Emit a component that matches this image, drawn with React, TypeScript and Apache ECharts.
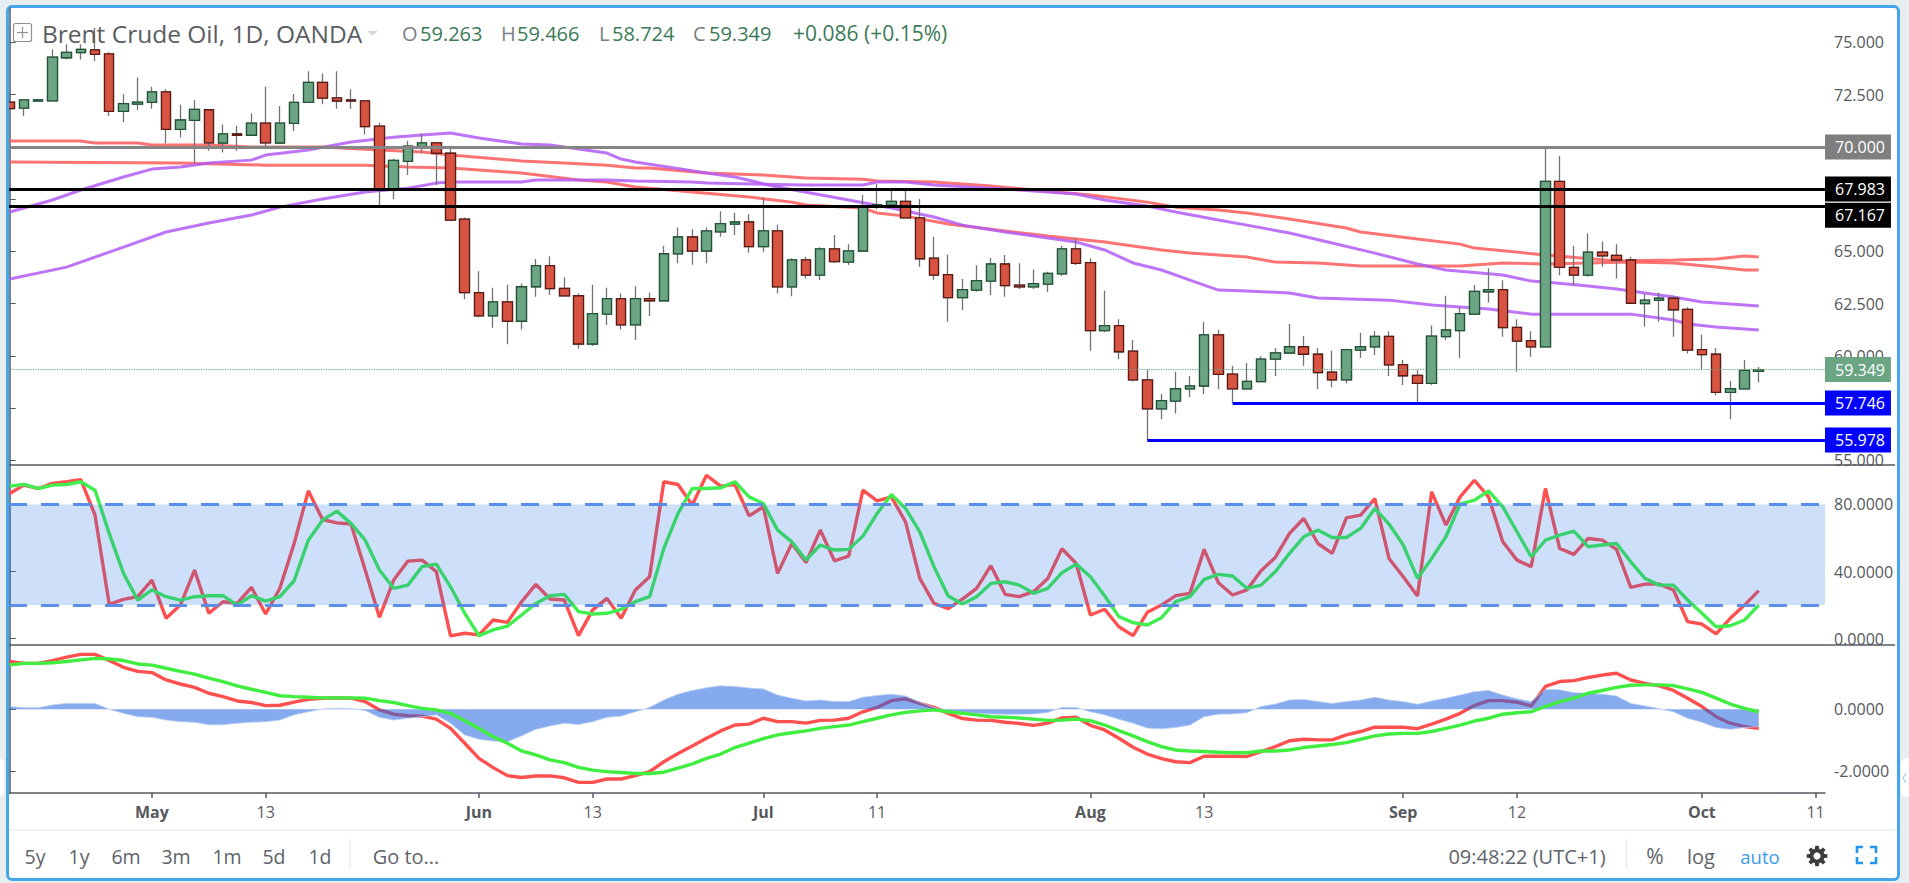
import React, { useEffect, useRef } from "react";
import * as echarts from "echarts";

const opens = [72.15,71.86,72.20,72.21,74.27,74.51,74.65,74.45,71.70,72.05,
72.13,72.64,70.84,71.27,71.78,70.19,70.63,70.56,71.14,70.19,
71.13,72.13,73.09,72.35,72.25,72.21,71.00,68.00,69.31,70.01,
70.20,69.70,66.55,63.03,61.92,62.59,61.66,63.31,64.32,63.23,
62.88,60.57,62.00,62.74,61.49,62.74,62.64,64.88,65.69,65.02,
65.94,66.31,66.41,65.23,65.98,63.30,64.60,63.87,65.12,64.49,
65.02,67.11,67.22,67.40,66.61,64.68,63.89,62.79,63.15,63.58,
64.40,63.39,63.30,63.44,63.93,65.12,64.46,61.21,61.45,60.23,
58.85,57.47,57.84,58.42,58.56,61.01,59.13,58.42,58.77,59.85,
60.14,60.44,60.08,59.22,58.85,60.28,60.43,60.94,59.58,59.07,
58.69,60.92,61.21,62.00,63.07,63.17,61.37,60.73,60.43,68.35,
64.24,63.87,64.97,64.81,64.59,62.50,62.66,62.76,62.23,60.30,
60.08,58.26,58.42,59.263];
const closes = [71.83,72.25,72.25,74.30,74.53,74.67,74.43,71.70,72.07,72.15,
72.64,70.84,71.29,71.80,70.20,70.63,70.56,71.14,70.20,71.14,
72.13,73.09,72.34,72.20,72.20,70.97,68.00,69.36,70.04,70.20,
69.70,66.50,63.03,61.92,62.59,61.66,63.31,64.32,63.22,62.87,
60.57,62.02,62.74,61.49,62.74,62.64,64.89,65.69,65.02,65.98,
66.33,66.41,65.23,65.98,63.30,64.60,63.87,65.12,64.51,65.03,
67.13,67.24,67.40,66.61,64.65,63.87,62.79,63.17,63.60,64.40,
63.36,63.30,63.46,63.95,65.12,64.43,61.21,61.45,60.20,58.85,
57.47,57.86,58.43,58.57,61.01,59.12,58.42,58.78,59.85,60.15,
60.44,60.08,59.20,58.85,60.30,60.44,60.94,59.57,59.05,58.69,
60.95,61.24,62.02,63.09,63.17,61.35,60.71,60.43,68.35,64.24,
63.87,64.97,64.79,64.59,62.52,62.67,62.76,62.21,60.28,60.06,
58.26,58.43,59.31,59.349];
const lows = [71.83,71.48,72.20,72.20,74.19,74.19,74.11,71.48,71.18,71.77,
71.83,70.17,70.46,69.23,69.82,69.74,69.82,70.56,70.01,70.19,
70.76,72.13,72.04,71.83,71.83,70.60,67.14,67.51,68.66,69.70,
68.18,66.44,62.71,61.85,61.35,60.56,61.27,62.83,62.91,62.85,
60.35,60.47,61.48,61.27,60.76,61.91,62.62,64.43,64.36,64.43,
65.70,65.79,64.94,64.99,62.99,62.85,63.71,63.63,64.45,64.35,
65.00,67.02,67.11,66.59,64.27,63.63,61.64,62.20,63.07,62.91,
62.83,63.20,63.20,63.06,63.84,64.35,60.25,61.13,59.84,58.77,
55.98,56.97,57.25,58.02,58.18,58.40,57.75,58.40,58.75,59.04,
60.12,59.53,58.40,58.50,58.69,59.90,60.04,59.04,58.61,57.75,
58.61,60.76,59.90,61.98,62.56,60.92,59.24,59.96,60.41,63.86,
63.38,63.79,64.27,63.71,62.50,61.40,61.64,60.92,60.12,59.36,
58.11,56.97,58.40,58.724];
const highs = [72.58,72.29,72.31,74.67,74.91,74.91,75.69,74.53,72.52,73.33,
72.88,72.76,72.02,72.25,71.80,71.08,71.02,71.61,72.88,71.96,
72.53,73.62,73.52,73.62,72.76,72.25,71.16,69.44,70.30,70.65,
70.25,69.96,66.63,64.05,63.26,63.41,63.47,64.64,64.77,63.76,
62.99,63.41,63.26,62.99,63.33,63.04,65.27,66.15,66.06,66.15,
66.92,66.85,66.78,67.56,66.28,64.68,64.75,65.20,65.79,65.34,
67.70,68.23,67.94,67.97,67.51,65.70,64.84,63.68,64.34,64.70,
64.83,64.43,64.14,64.03,65.27,65.63,64.67,63.12,61.75,60.76,
59.36,58.18,59.24,59.04,61.62,61.25,59.53,59.66,59.99,60.38,
61.53,60.95,60.38,60.25,60.34,61.11,61.18,61.18,59.80,59.33,
61.45,62.88,62.33,63.39,64.19,63.62,61.75,61.18,69.98,69.57,
65.27,65.87,65.48,65.35,64.75,62.96,63.04,62.88,62.33,61.03,
60.38,58.80,59.80,59.466];

// Moving averages: [bar index, price] read at knots from the picture
const maPurpleSlow = [[0,63.68],[4,64.25],[8,65.21],[11,65.93],[14,66.36],[17,66.74],[19,67.12],[22,67.51],[25,67.84],[28,68.03],[30,68.27],[31,68.32],[36,68.32],[37,68.42],[42,68.42],[44,68.37],[48,68.32],[49,68.27],[56,68.18],[60,68.18],[61,68.32],[63,68.32],[65,68.18],[70,67.99],[73,67.84],[75,67.75],[77,67.46],[80,67.17],[82,66.89],[85,66.50],[87,66.26],[90,65.88],[93,65.40],[96,64.92],[99,64.40],[101,64.11],[105,63.87],[107,63.58],[108,63.54],[111,63.35],[113,63.20],[115,63.01],[117,62.82],[119,62.58],[121,62.48],[123,62.39]];
const maPurpleFast = [[0,66.89],[3,67.46],[5,67.94],[8,68.56],[10,68.94],[12,69.04],[14,69.23],[17,69.37],[18,69.61],[21,69.85],[24,70.24],[27,70.47],[29,70.57],[31,70.67],[33,70.43],[36,70.14],[38,70.09],[40,69.90],[42,69.71],[43,69.42],[44,69.28],[49,68.75],[51,68.56],[54,68.08],[59,67.46],[62,67.08],[65,66.65],[67,66.26],[70,65.93],[73,65.64],[75,65.45],[77,65.07],[79,64.45],[81,64.11],[83,63.63],[85,63.15],[87,63.11],[90,63.01],[92,62.77],[97,62.67],[100,62.44],[104,62.24],[107,62.00],[114,62.00],[117,61.72],[118,61.53],[120,61.38],[123,61.24]];
const maRedUpper = [[0,70.28],[5,70.28],[6,70.19],[9,70.19],[10,70.09],[14,70.09],[17,70.00],[22,70.00],[26,69.85],[29,69.76],[31,69.61],[36,69.33],[39,69.23],[42,69.13],[44,68.99],[45,68.99],[49,68.75],[53,68.66],[56,68.51],[60,68.46],[61,68.37],[65,68.32],[69,68.13],[72,67.94],[76,67.70],[80,67.36],[82,67.12],[85,66.98],[87,66.84],[90,66.55],[94,66.12],[95,65.93],[99,65.59],[102,65.35],[103,65.16],[108,64.83],[113,64.54],[117,64.59],[120,64.64],[122,64.78],[123,64.73]];
const maRedLower = [[0,69.28],[12,69.23],[18,69.13],[25,69.13],[28,69.04],[31,68.99],[36,68.75],[40,68.42],[42,68.32],[44,68.08],[52,67.60],[55,67.36],[56,67.22],[60,67.08],[61,66.84],[63,66.69],[66,66.31],[70,65.98],[73,65.74],[77,65.45],[79,65.26],[81,65.07],[83,64.92],[87,64.73],[89,64.49],[92,64.45],[95,64.30],[102,64.30],[105,64.45],[108,64.40],[114,64.49],[117,64.45],[120,64.25],[122,64.11],[123,64.11]];

const stochK = [86.5,91.5,89.5,92.5,93.5,94.8,73.6,20.4,23.4,25.0,34.9,12.1,20.0,40.9,15.1,22.0,21.0,30.6,14.7,30.0,56.7,88.1,71.0,69.0,68.3,40.9,12.7,34.9,46.2,46.8,39.9,1.6,3.2,2.2,11.1,9.7,22.0,32.3,23.6,23.0,1.8,17.1,24.0,12.1,29.0,
36.9,93.5,91.9,79.6,97.4,90.9,91.9,73.2,78.6,38.9,56.7,45.4,64.7,46.4,49.2,88.5,82.1,84.5,69.6,35.9,21.0,17.9,23.6,30.0,43.5,26.4,25.0,28.0,35.9,53.6,44.8,14.1,17.5,7.1,1.8,15.7,20.0,25.6,27.0,53.2,33.3,26.0,29.0,40.5,48.4,
62.7,71.6,56.7,50.8,72.0,73.6,83.5,47.8,36.9,25.4,87.5,67.7,84.5,94.4,84.5,57.7,46.8,42.9,89.5,53.8,50.2,59.7,58.7,53.2,30.6,32.5,32.5,29.0,10.1,8.7,2.8,12.1,20.0,28.6];
const stochD = [90.9,91.9,89.5,91.5,91.9,93.5,88.5,62.7,38.9,23.0,29.0,25.0,23.0,25.0,25.6,25.6,20.0,25.6,22.4,25.0,34.5,58.7,70.6,76.0,68.7,58.7,40.9,30.0,31.9,42.9,44.4,30.9,15.1,1.8,5.2,7.5,14.1,21.0,25.6,26.4,16.1,14.7,15.1,17.5,22.0,
25.0,53.8,74.6,89.5,89.5,89.9,93.5,84.5,80.5,64.7,57.7,46.8,55.8,52.8,53.2,61.1,74.6,85.9,77.6,63.7,42.9,25.4,20.6,25.0,32.9,33.9,31.9,27.0,30.0,39.3,44.4,36.9,25.6,13.1,9.5,8.1,12.5,22.0,25.0,35.3,38.3,37.3,30.0,31.9,39.9,
50.8,60.7,64.7,60.3,60.3,65.7,77.6,68.3,55.8,35.9,47.8,60.7,80.2,82.5,88.1,78.6,63.7,48.8,58.7,61.7,64.1,54.8,55.8,56.7,45.8,35.9,31.9,31.9,23.0,15.1,7.1,7.7,11.1,20.0];

const macdLine = [1.55,1.49,1.49,1.58,1.69,1.78,1.78,1.58,1.36,1.23,1.19,0.95,0.82,0.71,0.52,0.41,0.27,0.22,0.12,0.13,0.23,0.32,0.36,0.37,0.36,0.25,-0.02,-0.16,-0.21,-0.22,-0.32,-0.62,-1.10,-1.59,-1.89,-2.15,-2.21,-2.16,-2.16,-2.22,-2.37,-2.37,-2.26,-2.26,-2.15,
-2.02,-1.70,-1.43,-1.19,-0.94,-0.70,-0.51,-0.48,-0.29,-0.40,-0.40,-0.45,-0.36,-0.35,-0.29,-0.08,0.06,0.28,0.34,0.19,0.06,-0.13,-0.30,-0.35,-0.36,-0.42,-0.46,-0.52,-0.45,-0.28,-0.26,-0.52,-0.67,-0.94,-1.23,-1.45,-1.60,-1.70,-1.73,-1.52,-1.52,-1.52,-1.53,-1.37,-1.21,
-1.02,-0.97,-0.99,-0.99,-0.83,-0.72,-0.58,-0.58,-0.58,-0.63,-0.48,-0.32,-0.13,0.12,0.28,0.28,0.23,0.11,0.74,0.90,0.93,1.03,1.11,1.17,0.95,0.84,0.76,0.61,0.36,0.09,-0.24,-0.45,-0.56,-0.62];
const signalLine = [1.44,1.49,1.49,1.51,1.55,1.60,1.65,1.63,1.58,1.47,1.43,1.33,1.23,1.14,1.01,0.90,0.76,0.65,0.55,0.44,0.41,0.39,0.37,0.37,0.37,0.36,0.28,0.22,0.12,0.03,-0.02,-0.13,-0.37,-0.62,-0.89,-1.10,-1.35,-1.48,-1.64,-1.73,-1.88,-1.97,-2.02,-2.05,-2.08,
-2.08,-2.04,-1.91,-1.77,-1.59,-1.45,-1.24,-1.10,-0.95,-0.83,-0.76,-0.70,-0.62,-0.56,-0.51,-0.40,-0.29,-0.18,-0.10,-0.05,-0.02,-0.08,-0.13,-0.18,-0.24,-0.26,-0.28,-0.32,-0.36,-0.35,-0.32,-0.37,-0.51,-0.69,-0.86,-1.05,-1.21,-1.32,-1.35,-1.37,-1.39,-1.41,-1.41,-1.35,-1.35,
-1.32,-1.24,-1.19,-1.14,-1.08,-0.97,-0.86,-0.80,-0.78,-0.78,-0.72,-0.62,-0.51,-0.38,-0.29,-0.16,-0.11,-0.08,0.09,0.25,0.36,0.52,0.61,0.71,0.78,0.79,0.79,0.77,0.66,0.55,0.36,0.17,0.03,-0.08];
const macdHist = [0.09,0.05,0.05,0.14,0.19,0.19,0.19,0,-0.13,-0.24,-0.26,-0.35,-0.40,-0.42,-0.50,-0.50,-0.45,-0.42,-0.40,-0.35,-0.18,-0.08,0.01,0.03,0.02,-0.04,-0.26,-0.35,-0.29,-0.24,-0.18,-0.45,-0.83,-0.97,-1.03,-1.05,-0.86,-0.65,-0.54,-0.45,-0.49,-0.40,-0.26,-0.22,-0.08,
0.06,0.30,0.49,0.61,0.70,0.76,0.74,0.69,0.66,0.46,0.36,0.27,0.30,0.25,0.25,0.39,0.45,0.49,0.43,0.23,0.06,-0.08,-0.10,-0.13,-0.15,-0.16,-0.16,-0.15,-0.10,0.06,0.06,-0.08,-0.18,-0.32,-0.45,-0.61,-0.63,-0.59,-0.51,-0.24,-0.16,-0.15,-0.11,0.09,0.17,
0.30,0.32,0.25,0.19,0.25,0.30,0.39,0.30,0.25,0.16,0.27,0.36,0.46,0.57,0.61,0.46,0.34,0.25,0.65,0.63,0.54,0.52,0.49,0.43,0.19,0.11,0.02,-0.08,-0.29,-0.42,-0.59,-0.65,-0.59,-0.56];

const timeTicks = [10, 18, 33, 41, 53, 61, 76, 84, 98, 106, 119, 127];
const timeLabels = ["May", "13", "Jun", "13", "Jul", "11", "Aug", "13", "Sep", "12", "Oct", "11"];
const priceTicks = [55, 57.5, 60, 62.5, 65, 67.5, 70, 72.5, 75];
const priceLabels = [55, 60, 62.5, 65, 72.5, 75];
const stochTicks = [0, 40, 80];
const macdTicks = [-2, 0];
const rangeButtons = ["5y", "1y", "6m", "3m", "1m", "5d", "1d"];

const FONT = "'Open Sans', sans-serif";
const AXIS = "#555960";
const X_MIN = -0.05;
const X_MAX = 127.66;
const pairs = (a: number[]) => a.map((v, i) => [i, v]);
const level = (from: number, v: number, line: any, bg: string, dy = 0) => [
  {
    coord: [from, v],
    lineStyle: line,
    label: {
      show: true, position: "end", distance: 0, formatter: v.toFixed(3), color: "#fff",
      backgroundColor: bg, padding: [4, 6, 4, 10], fontSize: 16, lineHeight: 17, fontFamily: FONT, offset: [0, dy],
    },
  },
  { coord: [X_MAX, v] },
];

export default function App() {
  const ref = useRef<HTMLDivElement>(null);
  useEffect(() => {
    const chart = echarts.init(ref.current!, null, { renderer: "svg" });
    const xBase = (i: number, show: boolean) => ({
      type: "value", gridIndex: i, min: X_MIN, max: X_MAX, show,
      splitLine: { show: false },
      axisLine: { onZero: false, lineStyle: { color: AXIS, width: 1.5 } },
      axisTick: { customValues: timeTicks, length: 5, lineStyle: { color: AXIS, width: 1.5 } },
      axisLabel: {
        customValues: timeTicks, margin: 11, color: "#5d6066", fontSize: 16, fontFamily: FONT,
        formatter: (v: number) => {
          const t = timeLabels[timeTicks.indexOf(Math.round(v))] ?? "";
          return /^\d/.test(t) ? t : `{b|${t}}`;
        },
        rich: { b: { fontWeight: "bold", color: "#55585e", fontSize: 16, fontFamily: FONT } },
      },
    });
    const yBase = (i: number, min: number, max: number, ticks: number[], labels: number[], dec: number) => ({
      type: "value", gridIndex: i, position: "right", min, max,
      splitLine: { show: false },
      axisLine: { show: true, lineStyle: { color: AXIS, width: 1.5 } },
      axisTick: { show: true, customValues: ticks, length: 6, lineStyle: { color: AXIS } },
      axisLabel: {
        customValues: labels, margin: 9, color: "#55585e", fontSize: 16, fontFamily: FONT,
        formatter: (v: number) => v.toFixed(dec),
      },
    });
    const ma = (d: number[][], color: string) => ({
      type: "line", xAxisIndex: 0, yAxisIndex: 0, data: d, showSymbol: false, symbol: "none", z: 2,
      lineStyle: { color, width: 3, opacity: 0.85 }, silent: true,
    });
    const ln = (axis: number, d: number[], color: string, z: number, width = 3.4) => ({
      type: "line", xAxisIndex: axis, yAxisIndex: axis, data: pairs(d), showSymbol: false, symbol: "none", z,
      lineStyle: { color, width }, silent: true,
    });
    const txt = (x: number, y: number, text: string, fill: string, fontSize = 20, align = "center", fontWeight = "normal") => ({
      type: "text", x, y, z: 20, silent: true,
      style: { text, fill, fontSize, fontFamily: FONT, align, verticalAlign: "middle", fontWeight },
    });
    const seg = (x1: number, y1: number, x2: number, y2: number, stroke: string, lineWidth: number, z = 1) => ({
      type: "line", z, silent: true, shape: { x1, y1, x2, y2 }, style: { stroke, lineWidth },
    });
    const gearPoints: number[][] = [];
    for (let k = 0; k < 8; k++) {
      const a = (k * Math.PI) / 4;
      [[-0.27, 7.6], [-0.17, 10.5], [0.17, 10.5], [0.27, 7.6]].forEach(([da, r]) =>
        gearPoints.push([1817 + r * Math.cos(a + da), 856 + r * Math.sin(a + da)])
      );
    }
    const bracket = (pts: number[][]) => ({
      type: "polyline", z: 20, silent: true, shape: { points: pts },
      style: { stroke: "#2196f3", lineWidth: 2.6, fill: "none" },
    });
    const buttonX = [35, 79, 126, 176, 227, 274, 320];
    const green = "#3c7a57";
    const gray = "#7a7d82";

    chart.setOption({
      animation: false,
      backgroundColor: "transparent",
      grid: [
        { left: 9, width: 1816, top: 8, height: 457 },
        { left: 9, width: 1816, top: 465, height: 180 },
        { left: 9, width: 1816, top: 645, height: 148 },
      ],
      xAxis: [xBase(0, false), xBase(1, false), xBase(2, true)],
      yAxis: [
        yBase(0, 54.78, 76.65, priceTicks, priceLabels, 3),
        yBase(1, -3.8, 103.5, stochTicks, stochTicks, 4),
        yBase(2, -2.713, 2.084, macdTicks, macdTicks, 4),
      ],
      series: [
        ma(maRedUpper, "#ff5a5a"),
        ma(maRedLower, "#ff5a5a"),
        ma(maPurpleSlow, "#b35cf5"),
        ma(maPurpleFast, "#b35cf5"),
        {
          type: "candlestick", xAxisIndex: 0, yAxisIndex: 0, barWidth: 10, z: 3, silent: true,
          data: opens.map((o, i) => [i, o, closes[i], lows[i], highs[i]]),
          itemStyle: { color: "#737375", color0: "#737375", borderColor: "#737375", borderColor0: "#737375", borderWidth: 1.3 },
        },
        {
          type: "candlestick", xAxisIndex: 0, yAxisIndex: 0, barWidth: 10, z: 4, silent: true,
          data: opens.map((o, i) => [i, o, closes[i], Math.min(o, closes[i]), Math.max(o, closes[i])]),
          itemStyle: { color: "#6ba583", color0: "#d75442", borderColor: "#225437", borderColor0: "#5b1a13", borderWidth: 1.3 },
        },
        {
          type: "line", xAxisIndex: 0, yAxisIndex: 0, data: [], z: 5, silent: true,
          markLine: {
            silent: true, symbol: ["none", "none"], z: 6, animation: false,
            data: [
              level(X_MIN, 59.349, { color: "#6ba583", type: "dotted", width: 1.2 }, "#6ba583"),
              level(X_MIN, 70, { color: "#858585", type: "solid", width: 3 }, "#7f7f7f"),
              level(X_MIN, 67.983, { color: "#000", type: "solid", width: 3 }, "#000"),
              level(X_MIN, 67.167, { color: "#000", type: "solid", width: 3 }, "#000", 9),
              level(86, 57.746, { color: "#0000ff", type: "solid", width: 3 }, "#0000ff"),
              level(80, 55.978, { color: "#0000ff", type: "solid", width: 3 }, "#0000ff"),
            ],
          },
        },
        ln(1, stochK, "#ff5050", 2),
        ln(1, stochD, "#40ee50", 3),
        {
          type: "line", xAxisIndex: 1, yAxisIndex: 1, data: [], z: 5, silent: true,
          markArea: {
            silent: true, z: 5, animation: false,
            itemStyle: { color: "rgba(33,110,226,0.22)" },
            data: [[{ yAxis: 80 }, { yAxis: 20 }]],
          },
          markLine: {
            silent: true, symbol: ["none", "none"], z: 6, animation: false,
            label: { show: false },
            lineStyle: { color: "#5b8ee6", type: [18, 14], width: 3 },
            data: [{ yAxis: 80 }, { yAxis: 20 }],
          },
        },
        ln(2, macdLine, "#ff5050", 2),
        {
          type: "line", xAxisIndex: 2, yAxisIndex: 2, data: pairs(macdHist), showSymbol: false, symbol: "none", z: 3, silent: true,
          lineStyle: { width: 0.8, color: "#b9cdf3" },
          areaStyle: { color: "rgba(33,100,222,0.55)", origin: 0, opacity: 1 },
        },
        ln(2, signalLine, "#40ee40", 4),
      ],
      graphic: {
        elements: [
          // clipped axis labels at the pane edges
          { type: "rect", z: 1, silent: true, shape: { x: 1827, y: 466, width: 68, height: 14 }, style: { fill: "#fff" } },
          { type: "rect", z: 1, silent: true, shape: { x: 1827, y: 646, width: 68, height: 14 }, style: { fill: "#fff" } },
          seg(9, 465, 1895, 465, AXIS, 1.5, 7),
          seg(9, 645, 1895, 645, AXIS, 1.5, 7),
          seg(9, 830, 1895, 830, "#e9edf1", 1.5),
          seg(350, 839, 350, 869, "#e6e9ee", 1.2),
          seg(1626.5, 839, 1626.5, 869, "#e6e9ee", 1.2),
          // header
          { type: "rect", z: 20, silent: true, shape: { x: 13.5, y: 23.5, width: 18, height: 18, r: 2 }, style: { fill: "none", stroke: "#8d9095", lineWidth: 1.2 } },
          seg(22.5, 27, 22.5, 38, "#8d9095", 1.2, 20),
          seg(17, 32.5, 28, 32.5, "#8d9095", 1.2, 20),
          txt(42, 33, "Brent Crude Oil, 1D, OANDA", "#5a5d62", 24.5, "left"),
          { type: "polygon", z: 20, silent: true, shape: { points: [[367, 31], [378, 31], [372.5, 35.5]] }, style: { fill: "#d5d7da" } },
          txt(402, 33, "O", gray, 20, "left"),
          txt(420, 33, "59.263", green, 20, "left"),
          txt(501, 33, "H", gray, 20, "left"),
          txt(517, 33, "59.466", green, 20, "left"),
          txt(599, 33, "L", gray, 20, "left"),
          txt(612, 33, "58.724", green, 20, "left"),
          txt(693, 33, "C", gray, 20, "left"),
          txt(709, 33, "59.349", green, 20, "left"),
          txt(793, 33, "+0.086 (+0.15%)", green, 21, "left"),
          // toolbar
          ...rangeButtons.map((b, i) => txt(buttonX[i], 856, b, "#60636a", 19.5)),
          txt(406, 856, "Go to...", "#60636a", 20),
          txt(1527, 856, "09:48:22 (UTC+1)", "#60636a", 20),
          txt(1655, 856, "%", "#60636a", 21),
          txt(1701, 856, "log", "#60636a", 20),
          txt(1760, 856, "auto", "#3d9be9", 18.5),
          { type: "polygon", z: 20, silent: true, shape: { points: gearPoints }, style: { fill: "#3a3c40" } },
          { type: "circle", z: 21, silent: true, shape: { cx: 1817, cy: 856, r: 3.6 }, style: { fill: "#fff" } },
          bracket([[1857, 853], [1857, 847], [1863, 847]]),
          bracket([[1870, 847], [1876, 847], [1876, 853]]),
          bracket([[1876, 857], [1876, 863], [1870, 863]]),
          bracket([[1863, 863], [1857, 863], [1857, 857]]),
          // right side tab
          { type: "rect", z: 1, silent: true, shape: { x: 1901, y: 758, width: 16, height: 39, r: 6 }, style: { fill: "#fff" } },
          { type: "polyline", z: 2, silent: true, shape: { points: [[1906, 773], [1903, 778], [1906, 783]] }, style: { stroke: "#a9cdf0", lineWidth: 1.3, fill: "none" } },
        ],
      },
    });
    return () => chart.dispose();
  }, []);
  return (
    <div style={{ position: "fixed", left: 0, top: 0, width: 1909, height: 883, background: "#e8edf1", overflow: "hidden" }}>
      <div style={{ position: "absolute", left: -8, top: 758, width: 12, height: 39, background: "#fff", borderRadius: 6 }} />
      <div
        style={{
          position: "absolute", left: 6, top: 5, width: 1888, height: 870, background: "#fff",
          border: "3px solid #45a6ec", borderRadius: 6, boxSizing: "content-box",
        }}
      />
      <div ref={ref} style={{ position: "absolute", left: 0, top: 0, width: 1909, height: 883, clipPath: "inset(0 0 0 9px)" }} />
    </div>
  );
}
